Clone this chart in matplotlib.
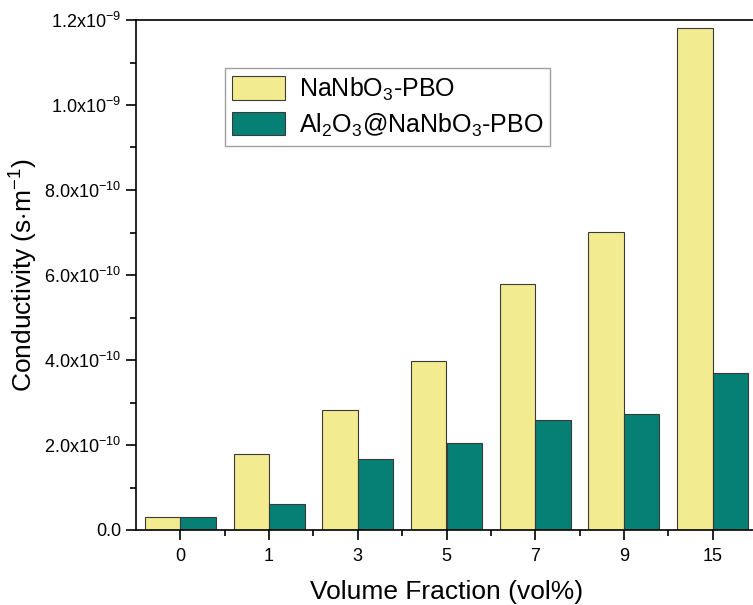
import numpy as np
import matplotlib
matplotlib.use("Agg")
import matplotlib.pyplot as plt
from matplotlib.ticker import MultipleLocator, FixedLocator

plt.rcParams["font.family"] = ["Liberation Sans", "DejaVu Sans"]
plt.rcParams["mathtext.fontset"] = "custom"
plt.rcParams["mathtext.rm"] = "Liberation Sans"
plt.rcParams["mathtext.it"] = "Liberation Sans:italic"
plt.rcParams["mathtext.bf"] = "Liberation Sans:bold"

categories = ["0", "1", "3", "5", "7", "9", "15"]
nanbo3_pbo = [3.0e-11, 1.80e-10, 2.82e-10, 3.98e-10, 5.78e-10, 7.01e-10, 1.181e-9]
al2o3_nanbo3_pbo = [3.0e-11, 6.1e-11, 1.66e-10, 2.05e-10, 2.59e-10, 2.72e-10, 3.69e-10]
series_names = [r"NaNbO$_3$-PBO", r"Al$_2$O$_3$@NaNbO$_3$-PBO"]
ytick_values = [0.0, 2.0e-10, 4.0e-10, 6.0e-10, 8.0e-10, 1.0e-9, 1.2e-9]
ytick_labels = ["0.0", r"2.0x10$^{-10}$", r"4.0x10$^{-10}$", r"6.0x10$^{-10}$",
                r"8.0x10$^{-10}$", r"1.0x10$^{-9}$", r"1.2x10$^{-9}$"]

yellow = "#F2EB8F"
teal = "#067F74"

fig = plt.figure(figsize=(7.53, 6.05), dpi=100)
W, H = 753, 605
ax = fig.add_axes([136 / W, (H - 530) / H, 621 / W, 510 / H])

x = np.arange(len(categories))
w = 0.4
ax.bar(x - w / 2, nanbo3_pbo, w, color=yellow, edgecolor="#3a3a3a", linewidth=0.8,
       label=series_names[0])
ax.bar(x + w / 2, al2o3_nanbo3_pbo, w, color=teal, edgecolor="#3a3a3a", linewidth=0.8,
       label=series_names[1])

ax.set_xlim(-0.5, len(categories) - 0.5)
ax.set_ylim(0, 1.2e-9)
ax.set_xticks(x)
ax.set_xticklabels(categories)
ax.xaxis.set_minor_locator(FixedLocator(x[:-1] + 0.5))
ax.set_yticks(ytick_values)
ax.set_yticklabels(ytick_labels)
ax.yaxis.set_minor_locator(MultipleLocator(1.0e-10))

for s in ax.spines.values():
    s.set_linewidth(1.2)
ax.tick_params(which="major", direction="out", length=7, width=1.2, labelsize=13)
ax.tick_params(which="minor", direction="out", length=4, width=1.2)
ax.tick_params(axis="x", pad=6)

ax.set_xlabel("Volume Fraction (vol%)", fontsize=19, labelpad=11)
ax.set_ylabel(r"Conductivity (s$\cdot$m$^{-1}$)", fontsize=19, labelpad=3)

leg = ax.legend(loc="upper left", bbox_to_anchor=(0.143, 0.906), borderaxespad=0,
                fontsize=18, frameon=True, fancybox=False, edgecolor="#888888",
                handlelength=2.1, handleheight=1.05, handletextpad=0.55,
                labelspacing=0.35, borderpad=0.3)
leg.get_frame().set_linewidth(1.0)

fig.savefig("out.png", dpi=100)
